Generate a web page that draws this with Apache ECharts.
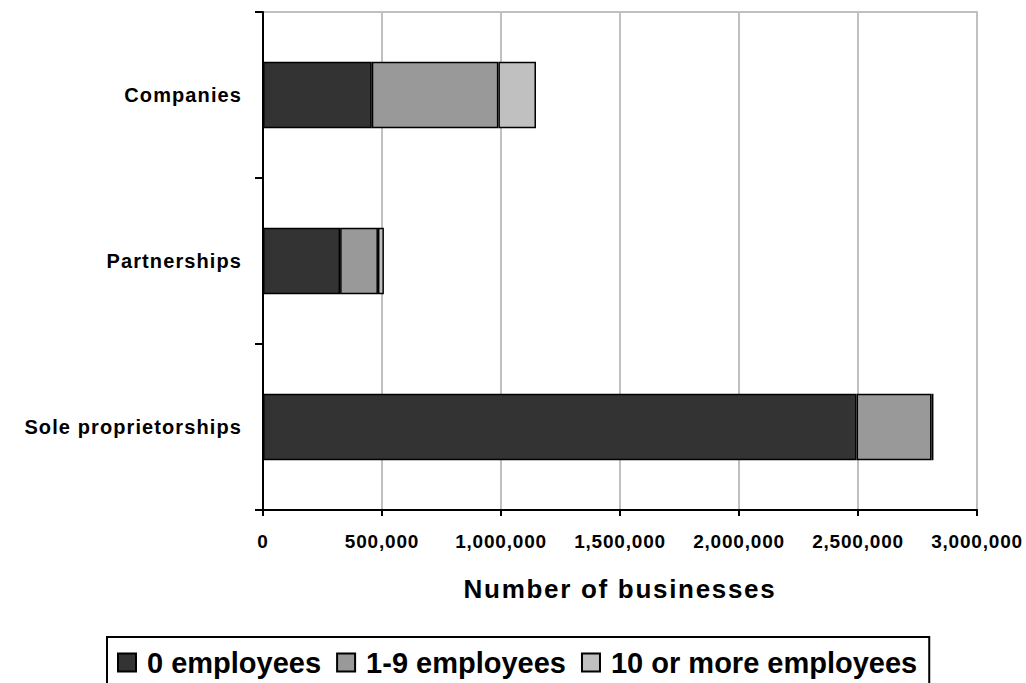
<!DOCTYPE html>
<html>
<head>
<meta charset="utf-8">
<script src="https://cdn.jsdelivr.net/npm/echarts@6/dist/echarts.min.js"></script>
<style>
  html, body { margin: 0; padding: 0; background: #fff; }
  #chart { width: 1026px; height: 683px; }
  #chart text[style*="20px"] { letter-spacing: 1.1px; }
  #chart text[style*="19px"] { letter-spacing: 0.8px; }
  #chart text[style*="26px"] { letter-spacing: 1.7px; }
</style>
</head>
<body>
<div id="chart"></div>
<script>
const categories = ['Companies', 'Partnerships', 'Sole proprietorships'];
const seriesNames = ['0 employees', '1-9 employees', '10 or more employees'];
const zeroEmployees = [457000, 324000, 2494000];
const oneToNine = [532000, 159000, 315000];
const tenOrMore = [158000, 25000, 8000];
const xTicks = { min: 0, max: 3000000, interval: 500000 };
const colors = ['#333333', '#999999', '#c0c0c0'];

const FONT = "'Liberation Sans', Arial, sans-serif";
const values = [zeroEmployees, oneToNine, tenOrMore];

const chart = echarts.init(document.getElementById('chart'), null, { renderer: 'svg' });
chart.setOption({
  animation: false,
  backgroundColor: '#ffffff',
  color: colors,
  textStyle: { fontFamily: FONT },
  grid: {
    left: 263, right: 49, top: 12, bottom: 173,
    show: true, borderColor: '#c0c0c0', borderWidth: 2, backgroundColor: 'transparent'
  },
  legend: {
    left: 107, top: 637,
    orient: 'horizontal',
    padding: [11, 12, 40, 10],
    borderColor: '#000', borderWidth: 2,
    itemWidth: 18, itemHeight: 18, itemGap: 15,
    icon: 'rect',
    textStyle: { fontSize: 29, fontWeight: 'bold', color: '#000', fontFamily: FONT, padding: [0, 0, 0, 6] },
    data: seriesNames
  },
  xAxis: {
    type: 'value',
    min: xTicks.min, max: xTicks.max, interval: xTicks.interval,
    name: 'Number of businesses',
    nameLocation: 'middle',
    nameGap: 66,
    nameTextStyle: { fontSize: 26, fontWeight: 'bold', color: '#000', fontFamily: FONT },
    axisLine: { show: true, lineStyle: { color: '#000', width: 2 } },
    axisTick: { show: true, length: 6, lineStyle: { color: '#000', width: 2 } },
    axisLabel: {
      fontSize: 19, fontWeight: 'bold', color: '#000', margin: 22, fontFamily: FONT,
      formatter: v => v.toLocaleString('en-US')
    },
    splitLine: { show: true, lineStyle: { color: '#c0c0c0', width: 2 } }
  },
  yAxis: {
    type: 'category',
    inverse: true,
    data: categories,
    axisLine: { show: true, lineStyle: { color: '#000', width: 2 } },
    axisTick: { show: true, length: 8, lineStyle: { color: '#000', width: 2 } },
    axisLabel: { fontSize: 20, fontWeight: 'bold', color: '#000', margin: 21, fontFamily: FONT },
    splitLine: { show: false }
  },
  series: seriesNames.map((name, i) => ({
    name,
    type: 'bar',
    stack: 'total',
    barWidth: '40%',
    data: values[i],
    itemStyle: { color: colors[i], borderColor: '#000', borderWidth: 1.5 }
  }))
});
</script>
</body>
</html>
